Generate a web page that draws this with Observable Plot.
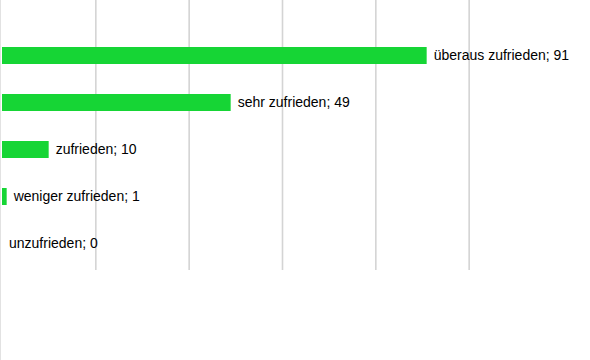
<!DOCTYPE html>
<html>
<head>
<meta charset="utf-8">
<script src="https://cdn.jsdelivr.net/npm/d3@7"></script>
<script src="https://cdn.jsdelivr.net/npm/@observablehq/plot@0.6"></script>
<style>
  html, body { margin: 0; padding: 0; background: #fff; }
  #chart { width: 589px; height: 360px; border-left: 1px solid #e2e2e2; }
  #chart svg { display: block; }
</style>
</head>
<body>
<div id="chart"></div>
<script>
// Zufriedenheit: Anzahl der Antworten je Kategorie
const categories = ["überaus zufrieden", "sehr zufrieden", "zufrieden", "weniger zufrieden", "unzufrieden"];
const counts = [91, 49, 10, 1, 0];
const gridTicks = [20, 40, 60, 80, 100];

const rows = categories.map((c, i) => ({category: c, count: counts[i], label: `${c}; ${counts[i]}`}));

const chart = Plot.plot({
  width: 589,
  height: 360,
  marginLeft: 1,
  marginRight: 0,
  marginTop: 0,
  marginBottom: 90,
  style: {fontFamily: "Arial, 'Liberation Sans', sans-serif", fontSize: "14px", background: "#fff"},
  x: {domain: [0, 126], axis: null},
  y: {domain: categories, range: [29, 270], paddingInner: 31 / 48, paddingOuter: 16 / 48, axis: null},
  marks: [
    Plot.gridX(gridTicks, {stroke: "#d4d4d4", strokeOpacity: 1, strokeWidth: 1.6}),
    Plot.barX(rows, {y: "category", x: "count", fill: "#16d535"}),
    Plot.text(rows, {
      y: "category", x: "count", text: "label",
      textAnchor: "start", dx: 6.5, fill: "#000", fontSize: 14
    })
  ]
});
document.getElementById("chart").append(chart);
</script>
</body>
</html>
